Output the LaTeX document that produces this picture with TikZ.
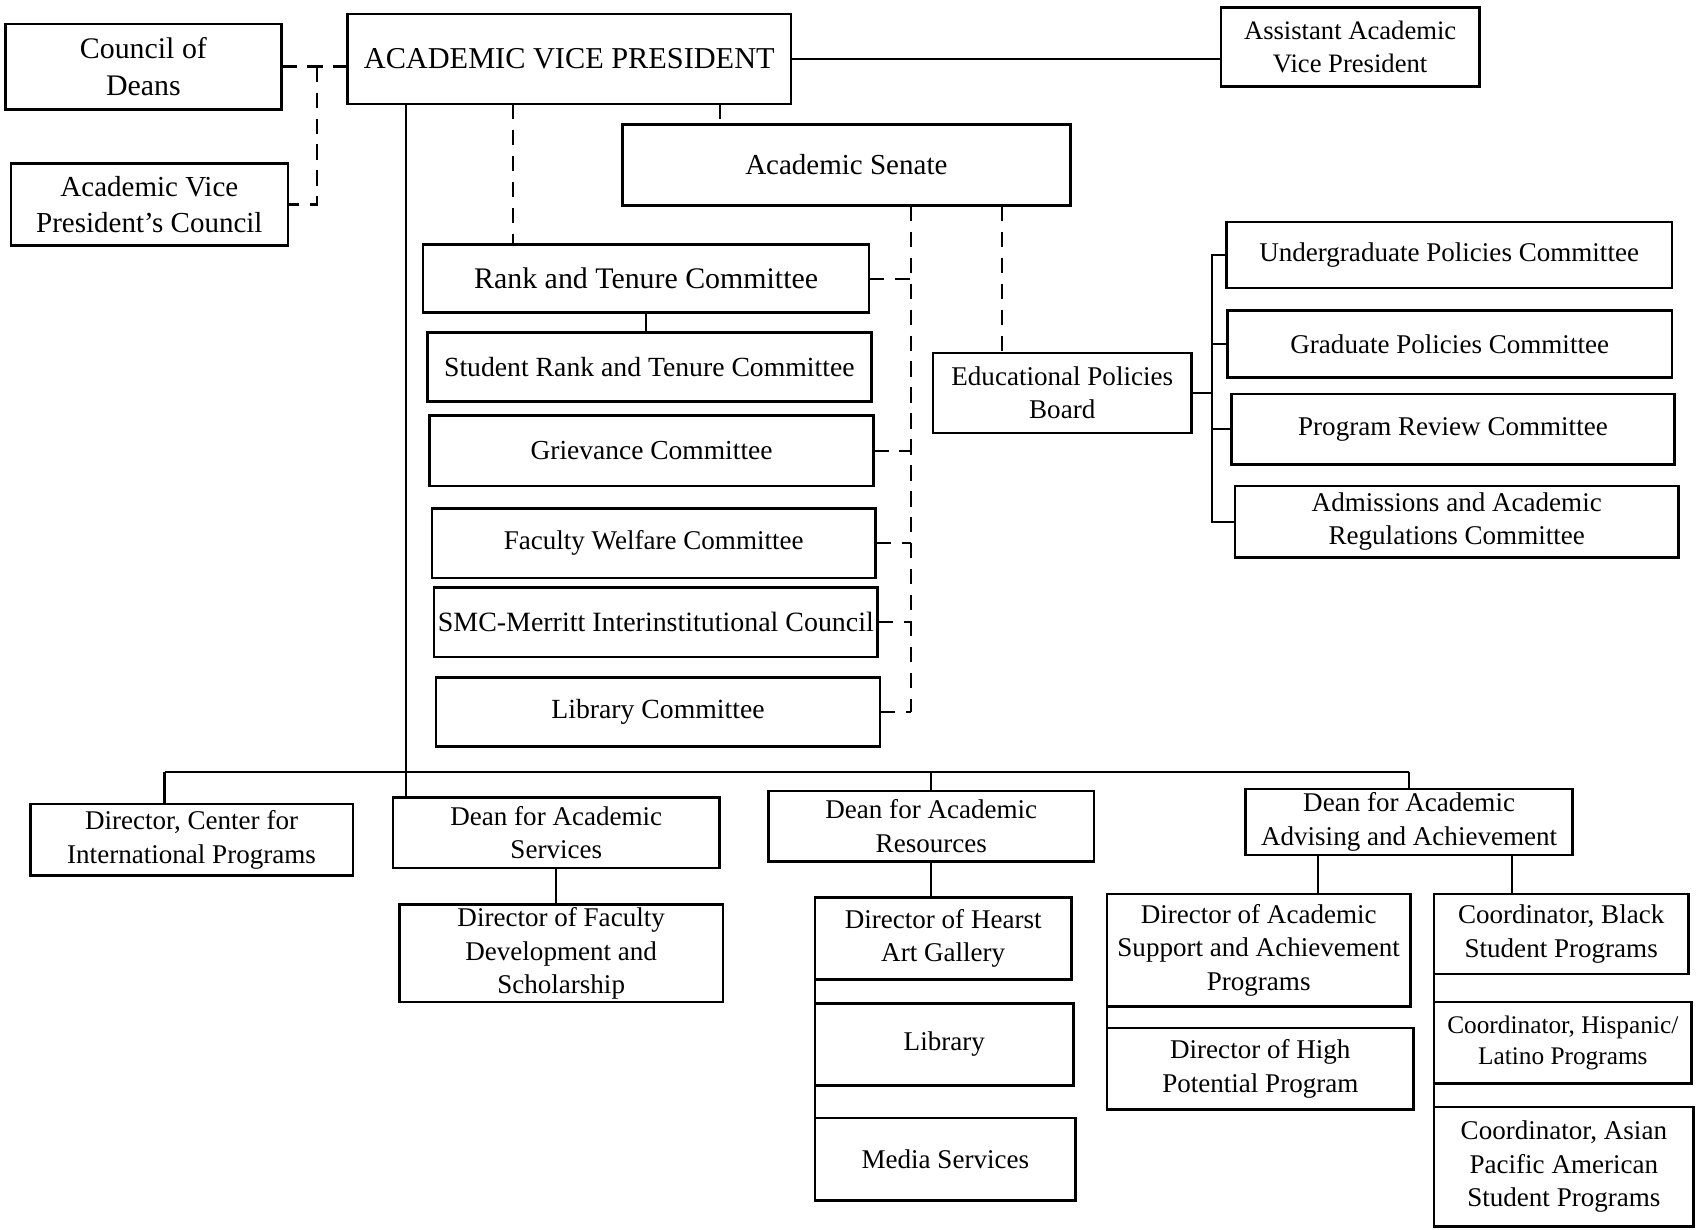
\documentclass[tikz,border=0pt]{standalone}
\usepackage{fontspec}
\setmainfont{Liberation Serif}
\newcommand{\fsz}[2]{\fontsize{#1}{#2}\selectfont}
% \orgbox[font]{name}{x1}{y1}{x2}{y2}{text}: a box given by its corners
\newcommand{\orgbox}[7][\fsz{12.5}{15.5}]{%
  \node[box, font=#1, minimum width={(#5-#3)*0.5}, minimum height={(#6-#4)*0.5}]
    (#2) at ({(#3+#5)/2},{(#4+#6)/2}) {#7};}
\tikzset{
  box/.style={draw, line width=1.2pt, inner sep=0pt, outer sep=0pt, align=center, fill=white},
  ln/.style={line width=1pt},
  dsh/.style={line width=1pt, dash pattern=on 7pt off 5pt},
}
\begin{document}
\begin{tikzpicture}[x=0.5pt,y=-0.5pt]
\useasboundingbox (0,0) rectangle (1568,1136);

% top level
\orgbox[\fsz{13.8}{17}]{cod}{5}{22}{260}{101}{Council of\\Deans}
\orgbox[\fsz{13.4}{17}]{avpc}{10}{151}{266}{227}{Academic Vice\\President’s Council}
\orgbox[\fsz{14}{17}]{avp}{321}{13}{731}{96}{ACADEMIC VICE PRESIDENT}
\orgbox[\fsz{12.3}{15}]{aavp}{1128}{7}{1367}{80}{Assistant Academic\\Vice President}
\orgbox[\fsz{13.4}{16}]{as}{575}{115}{989}{190}{Academic Senate}

% senate committees
\orgbox[\fsz{13.8}{16}]{rt}{391}{226}{803}{289}{Rank and Tenure Committee}
\orgbox[\fsz{12.8}{16}]{srt}{395}{307}{805}{371}{Student Rank and Tenure Committee}
\orgbox[\fsz{12.7}{16}]{gc}{397}{384}{807}{449}{Grievance Committee}
\orgbox{fwc}{399}{470}{809}{534}{Faculty Welfare Committee}
\orgbox[\fsz{12.9}{16}]{smc}{401}{543}{811}{607}{SMC-Merritt Interinstitutional Council}
\orgbox[\fsz{12.8}{16}]{lc}{403}{626}{813}{690}{Library Committee}

% educational policies board and its committees
\orgbox{epb}{862}{326}{1101}{400}{Educational Policies\\Board}
\orgbox{upc}{1133}{205}{1545}{266}{Undergraduate Policies Committee}
\orgbox{gpc}{1134}{287}{1545}{349}{Graduate Policies Committee}
\orgbox{prc}{1138}{364}{1547}{429}{Program Review Committee}
\orgbox{aar}{1141}{449}{1551}{515}{Admissions and Academic\\Regulations Committee}

% deans and directors
\orgbox{dcip}{28}{743}{326}{809}{Director, Center for\\International Programs}
\orgbox{das}{363}{737}{665}{802}{Dean for Academic\\Services}
\orgbox{dar}{710}{731}{1011}{796}{Dean for Academic\\Resources}
\orgbox{daa}{1151}{729}{1453}{790}{Dean for Academic\\Advising and Achievement}
\orgbox{dfd}{369}{836}{668}{926}{Director of Faculty\\Development and\\Scholarship}
\orgbox{hag}{753}{829}{990}{905}{Director of Hearst\\Art Gallery}
\orgbox{lib}{753}{927}{992}{1003}{Library}
\orgbox{med}{753}{1033}{994}{1109}{Media Services}
\orgbox{dasp}{1023}{826}{1303}{930}{Director of Academic\\Support and Achievement\\Programs}
\orgbox{dhp}{1023}{950}{1306}{1025}{Director of High\\Potential Program}
\orgbox{cbs}{1325}{826}{1560}{900}{Coordinator, Black\\Student Programs}
\orgbox[\fsz{11.7}{14.5}]{chl}{1325}{926}{1563}{1001}{Coordinator, Hispanic/\\Latino Programs}
\orgbox{cap}{1325}{1023}{1565}{1133}{Coordinator, Asian\\Pacific American\\Student Programs}

% guide positions for connectors
\coordinate (xA) at (293,0);
\coordinate (xB) at (375,0);
\coordinate (xC) at (474,0);
\coordinate (xD) at (665,0);
\coordinate (xE) at (842,0);
\coordinate (xF) at (926,0);
\coordinate (xG) at (1120,0);
\coordinate (xI) at (152,0);
\coordinate (xJ) at (1218,0);
\coordinate (xK) at (1397,0);
\coordinate (yH) at (0,713);

% advisory links (dashed)
\draw[dsh] (cod.east) -- (cod.east -| avp.west);
\draw[dsh] (cod.east -| xA) |- (avpc.east);
\draw[dsh] (avp.south -| xC) -- (rt.north -| xC);
\draw[dsh] (avp.south -| xD) -- (as.north -| xD);
\draw[dsh] (as.south -| xE) -- (lc.east -| xE);
\foreach \n in {rt,gc,fwc,smc,lc} \draw[dsh] (\n.east) -- (\n.east -| xE);
\draw[dsh] (as.south -| xF) -- (epb.north -| xF);

% line relationships (solid)
\draw[ln] (avp.east) -- (avp.east -| aavp.west);
\draw[ln] (avp.south -| xB) -- (das.north -| xB);
\draw[ln] (rt.south) -- (rt.south |- srt.north);
\draw[ln] (epb.east) -- (epb.east -| xG);
\foreach \n in {upc,gpc,prc,aar} \draw[ln] (epb.east -| xG) |- (\n.west);

\draw[ln] (xI |- yH) -- (daa.north |- yH);
\draw[ln] (xI |- yH) -- (dcip.north -| xI);
\draw[ln] (dar.north |- yH) -- (dar.north);
\draw[ln] (daa.north |- yH) -- (daa.north);
\draw[ln] (das.south) -- (das.south |- dfd.north);
\draw[ln] (dar.south) -- (dar.south |- hag.north);
\draw[ln] (hag.south west) -- (hag.south west |- lib.north);
\draw[ln] (lib.south west) -- (lib.south west |- med.north);
\draw[ln] (daa.south -| xJ) -- (dasp.north -| xJ);
\draw[ln] (daa.south -| xK) -- (cbs.north -| xK);
\draw[ln] (dasp.south west) -- (dasp.south west |- dhp.north);
\draw[ln] (cbs.south west) -- (cbs.south west |- chl.north);
\draw[ln] (chl.south west) -- (chl.south west |- cap.north);
\end{tikzpicture}
\end{document}
